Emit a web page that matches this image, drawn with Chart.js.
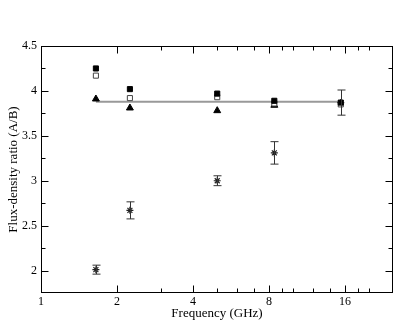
<!DOCTYPE html>
<html lang="en">
<head>
    <meta charset="UTF-8">
    <title>Flux-density ratio vs frequency</title>
    <script src="https://cdn.jsdelivr.net/npm/chart.js"></script>
    <style>
        body {
            margin: 0;
            background-color: #ffffff;
        }
        #wrap {
            width: 415px;
            height: 335px;
        }
    </style>
</head>
<body>
    <div id="wrap"><canvas id="chart" width="415" height="335"></canvas></div>

    <script>
        // frequencies (GHz) of the five bands
        const freqs = [1.65, 2.25, 4.99, 8.4, 15.4];

        // ratio series
        const filledSquares = [4.25, 4.02, 3.97, 3.89, 3.87];
        const openSquares = [4.17, 3.92, 3.93, 3.86, 3.85];
        const filledTriangles = [3.91, 3.81, 3.78, 3.84, null];
        const stars = [2.01, 2.67, 3.0, 3.31, 3.87];
        const starErrors = [0.05, 0.095, 0.055, 0.125, 0.14];

        // mean level drawn as the grey line
        const meanLevel = 3.88;

        // axis ticks
        const xTickValues = [1, 2, 3, 4, 5, 6, 7, 8, 9, 10, 12, 14, 16, 18, 20];
        const xLabels = [1, 2, 4, 8, 16];
        const yMin = 1.75, yMax = 4.5, yStep = 0.25;

        const serif = "'Liberation Serif', 'DejaVu Serif', serif";

        function pts(values) {
            return freqs.map((f, i) => ({ x: f, y: values[i] }));
        }

        // error bars on the star series
        const errorBars = {
            id: 'errorBars',
            afterDatasetsDraw(chart) {
                const ctx = chart.ctx;
                const xs = chart.scales.x, ys = chart.scales.y;
                ctx.save();
                ctx.strokeStyle = '#333';
                ctx.lineWidth = 1;
                freqs.forEach((f, i) => {
                    const px = Math.round(xs.getPixelForValue(f)) + 0.5;
                    const top = ys.getPixelForValue(stars[i] + starErrors[i]);
                    const bot = ys.getPixelForValue(stars[i] - starErrors[i]);
                    ctx.beginPath();
                    ctx.moveTo(px, top);
                    ctx.lineTo(px, bot);
                    ctx.moveTo(px - 4, top);
                    ctx.lineTo(px + 4, top);
                    ctx.moveTo(px - 4, bot);
                    ctx.lineTo(px + 4, bot);
                    ctx.stroke();
                });
                ctx.restore();
            }
        };

        // box frame with inward ticks on all four sides
        const frameTicks = {
            id: 'frameTicks',
            afterDraw(chart) {
                const ctx = chart.ctx;
                const a = chart.chartArea;
                const xs = chart.scales.x, ys = chart.scales.y;
                const L = Math.round(a.left) + 0.5, R = Math.round(a.right) - 0.5;
                const T = Math.round(a.top) + 0.5, B = Math.round(a.bottom) - 0.5;
                ctx.save();
                ctx.strokeStyle = '#000';
                ctx.lineWidth = 1;
                ctx.strokeRect(L, T, R - L, B - T);
                ctx.beginPath();
                xs.ticks.forEach(t => {
                    if (t.value <= xs.min || t.value >= xs.max) return;
                    const len = xLabels.includes(t.value) ? 7 : 4;
                    const px = Math.round(xs.getPixelForValue(t.value)) + 0.5;
                    ctx.moveTo(px, B);
                    ctx.lineTo(px, B - len);
                    ctx.moveTo(px, T);
                    ctx.lineTo(px, T + len);
                });
                ys.ticks.forEach(t => {
                    if (t.value <= ys.min || t.value >= ys.max) return;
                    const major = Math.abs(t.value * 2 - Math.round(t.value * 2)) < 1e-9;
                    const len = major ? 7 : 4;
                    const py = Math.round(ys.getPixelForValue(t.value)) + 0.5;
                    ctx.moveTo(L, py);
                    ctx.lineTo(L + len, py);
                    ctx.moveTo(R, py);
                    ctx.lineTo(R - len, py);
                });
                ctx.stroke();
                ctx.restore();
            }
        };

        new Chart(document.getElementById('chart'), {
            type: 'scatter',
            data: {
                datasets: [
                    {
                        label: 'filled squares',
                        data: pts(filledSquares),
                        pointStyle: 'rect',
                        pointRadius: 3.6,
                        backgroundColor: '#000',
                        borderColor: '#000',
                        borderWidth: 1
                    },
                    {
                        label: 'open squares',
                        data: pts(openSquares),
                        pointStyle: 'rect',
                        pointRadius: 3.6,
                        backgroundColor: '#fff',
                        borderColor: '#444',
                        borderWidth: 1
                    },
                    {
                        label: 'filled triangles',
                        data: pts(filledTriangles),
                        pointStyle: 'triangle',
                        pointRadius: 4,
                        backgroundColor: '#000',
                        borderColor: '#000',
                        borderWidth: 1
                    },
                    {
                        label: 'stars',
                        data: pts(stars),
                        pointStyle: 'star',
                        pointRadius: 3.5,
                        backgroundColor: '#222',
                        borderColor: '#222',
                        borderWidth: 1.2
                    },
                    {
                        label: 'mean',
                        type: 'line',
                        data: [
                            { x: freqs[0], y: meanLevel },
                            { x: freqs[freqs.length - 1], y: meanLevel }
                        ],
                        borderColor: '#999',
                        borderWidth: 2,
                        pointRadius: 0,
                        fill: false
                    }
                ]
            },
            options: {
                responsive: false,
                animation: false,
                layout: {
                    padding: { left: 0, top: 46, right: 22, bottom: 0 }
                },
                plugins: {
                    legend: { display: false },
                    tooltip: { enabled: false }
                },
                scales: {
                    x: {
                        type: 'logarithmic',
                        min: 1,
                        max: 24.8,
                        grid: { display: false, drawTicks: false },
                        border: { display: false },
                        afterBuildTicks: (scale) => {
                            scale.ticks = xTickValues.map(v => ({ value: v }));
                        },
                        afterFit: (scale) => { scale.height = 42; },
                        ticks: {
                            autoSkip: false,
                            maxRotation: 0,
                            padding: 2,
                            color: '#000',
                            font: { family: serif, size: 12 },
                            callback: (v) => xLabels.includes(v) ? String(v) : ''
                        },
                        title: {
                            display: true,
                            text: 'Frequency (GHz)',
                            color: '#000',
                            font: { family: serif, size: 13 },
                            padding: { top: 0, bottom: 14 }
                        }
                    },
                    y: {
                        min: yMin,
                        max: yMax,
                        grid: { display: false, drawTicks: false },
                        border: { display: false },
                        afterFit: (scale) => { scale.width = 41; },
                        ticks: {
                            stepSize: yStep,
                            autoSkip: false,
                            padding: 4,
                            color: '#000',
                            font: { family: serif, size: 12 },
                            callback: (v) => Math.abs(v * 2 - Math.round(v * 2)) < 1e-9 ? String(v) : ''
                        },
                        title: {
                            display: true,
                            text: 'Flux-density ratio (A/B)',
                            color: '#000',
                            font: { family: serif, size: 13 },
                            padding: { top: 6, bottom: 0 }
                        }
                    }
                }
            },
            plugins: [errorBars, frameTicks]
        });
    </script>
</body>
</html>
